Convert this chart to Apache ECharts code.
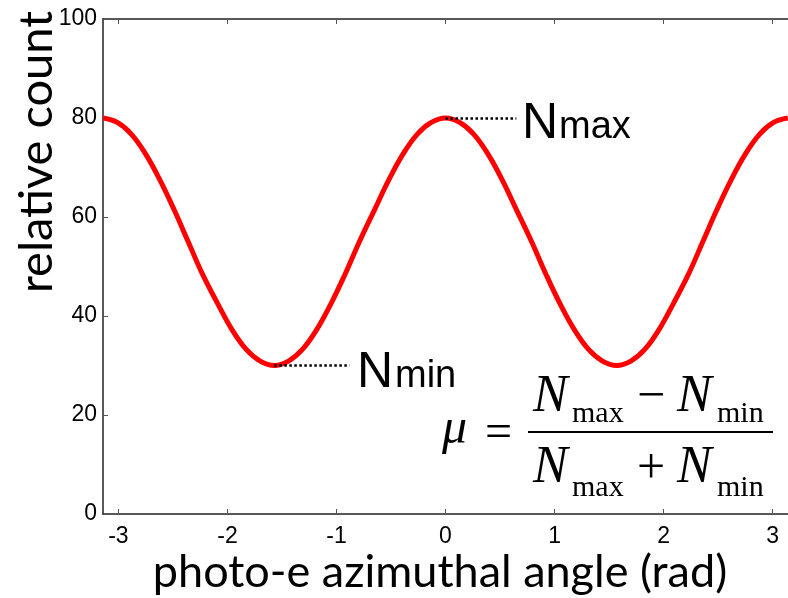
<!doctype html>
<html>
    <head>
        <meta charset="utf-8">
        <title>relative count vs azimuthal angle</title>
        <style>
            html, body { margin: 0; padding: 0; background: #fff; }
            #main { width: 788px; height: 598px; }
        </style>
    </head>
    <body>
        <div id="main"></div>
        <script src="https://cdn.jsdelivr.net/npm/echarts@6/dist/echarts.min.js"></script>
        <script>
            // curve (rad, relative count)
            var angles = [-3.14, -3.01, -2.88, -2.75, -2.62, -2.49, -2.36, -2.23, -2.09, -1.96, -1.83, -1.70,
                -1.57, -1.44, -1.31, -1.18, -1.05, -0.92, -0.79, -0.65, -0.52, -0.39, -0.26, -0.13,
                0, 0.13, 0.26, 0.39, 0.52, 0.65, 0.79, 0.92, 1.05, 1.18, 1.31, 1.44,
                1.57, 1.70, 1.83, 1.96, 2.09, 2.23, 2.36, 2.49, 2.62, 2.75, 2.88, 3.01, 3.14];
            var counts = [80, 79.1, 76.7, 72.7, 67.5, 61.5, 55, 48.5, 42.5, 37.3, 33.3, 30.9,
                30, 30.9, 33.3, 37.3, 42.5, 48.5, 55, 61.5, 67.5, 72.7, 76.7, 79.1,
                80, 79.1, 76.7, 72.7, 67.5, 61.5, 55, 48.5, 42.5, 37.3, 33.3, 30.9,
                30, 30.9, 33.3, 37.3, 42.5, 48.5, 55, 61.5, 67.5, 72.7, 76.7, 79.1, 80];

            var xTicks = [-3, -2, -1, 0, 1, 2, 3];

            // dotted leader lines to the labels
            var maxLeader = [[0, 80], [0.65, 80]];
            var minLeader = [[-1.57, 30], [-0.88, 30]];

            var chart = echarts.init(document.getElementById('main'));

            var lineData = angles.map(function (a, i) {
                return [a, counts[i]];
            });

            var tickFont = {
                fontFamily: 'Liberation Sans',
                fontSize: 23,
                color: '#000'
            };
            var axisTick = { inside: true, length: 5, lineStyle: { color: '#555', width: 1 } };

            function axisLine() {
                return { show: true, onZero: false, lineStyle: { color: '#222', width: 1.5 } };
            }

            function txt(x, y, text, font, size, extra) {
                var s = {
                    text: text,
                    font: (extra || '') + ' ' + size + 'px ' + font,
                    fill: '#000',
                    align: 'left',
                    verticalAlign: 'middle'
                };
                return { type: 'text', x: x, y: y, style: s, z: 100 };
            }

            var serif = '"Liberation Serif", "Times New Roman", serif';
            var sans = '"Liberation Sans", Arial, sans-serif';

            chart.setOption({
                animation: false,
                grid: { left: 103, top: 19, width: 687, height: 495 },
                xAxis: [{
                    type: 'value',
                    min: -Math.PI,
                    max: Math.PI,
                    axisLine: axisLine(),
                    axisTick: Object.assign({ customValues: xTicks }, axisTick),
                    axisLabel: Object.assign({ customValues: xTicks, margin: 11 }, tickFont),
                    splitLine: { show: false }
                }, {
                    type: 'value',
                    position: 'top',
                    min: -Math.PI,
                    max: Math.PI,
                    axisLine: axisLine(),
                    axisTick: Object.assign({ customValues: xTicks }, axisTick),
                    axisLabel: { show: false },
                    splitLine: { show: false }
                }],
                yAxis: {
                    type: 'value',
                    min: 0,
                    max: 100,
                    interval: 20,
                    axisLine: axisLine(),
                    axisTick: Object.assign({ show: true }, axisTick),
                    axisLabel: Object.assign({ margin: 6 }, tickFont),
                    splitLine: { show: false }
                },
                series: [{
                    type: 'line',
                    data: lineData,
                    smooth: 0.4,
                    showSymbol: false,
                    lineStyle: { color: '#ff0000', width: 5 },
                    markLine: {
                        silent: true,
                        symbol: 'none',
                        label: { show: false },
                        lineStyle: { type: 'dotted', color: '#000', width: 2.5 },
                        data: [
                            [{ coord: maxLeader[0] }, { coord: maxLeader[1] }],
                            [{ coord: minLeader[0] }, { coord: minLeader[1] }]
                        ]
                    }
                }],
                graphic: [
                    {
                        type: 'text', x: 37, y: 152, rotation: Math.PI / 2, z: 100,
                        style: {
                            text: 'relative count', font: '47px Lato', fill: '#000',
                            align: 'center', verticalAlign: 'middle'
                        }
                    },
                    {
                        type: 'text', x: 440, y: 572, z: 100,
                        style: {
                            text: 'photo-e azimuthal angle (rad)', font: '45px Lato', fill: '#000',
                            align: 'center', verticalAlign: 'middle'
                        }
                    },
                    // N max / N min labels
                    txt(522, 124, 'N', sans, 50),
                    txt(559, 128, 'max', sans, 38),
                    txt(357, 373, 'N', sans, 50),
                    txt(395, 377, 'min', sans, 38),
                    // mu = (Nmax - Nmin) / (Nmax + Nmin)
                    txt(442, 430, 'μ', serif, 50, 'italic'),
                    txt(485, 434, '=', serif, 48),
                    txt(533, 397, 'N', serif, 52, 'italic'),
                    txt(572, 414, 'max', serif, 30),
                    txt(637, 398, '−', serif, 50),
                    txt(677, 397, 'N', serif, 52, 'italic'),
                    txt(717, 414, 'min', serif, 30),
                    txt(533, 468, 'N', serif, 52, 'italic'),
                    txt(572, 488, 'max', serif, 30),
                    txt(637, 470, '+', serif, 50),
                    txt(677, 468, 'N', serif, 52, 'italic'),
                    txt(717, 488, 'min', serif, 30),
                    {
                        type: 'line', z: 100,
                        shape: { x1: 528, y1: 432, x2: 773, y2: 432 },
                        style: { stroke: '#000', lineWidth: 2 }
                    }
                ]
            });

            window.addEventListener('resize', function () {
                chart.resize();
            });
        </script>
    </body>
</html>
